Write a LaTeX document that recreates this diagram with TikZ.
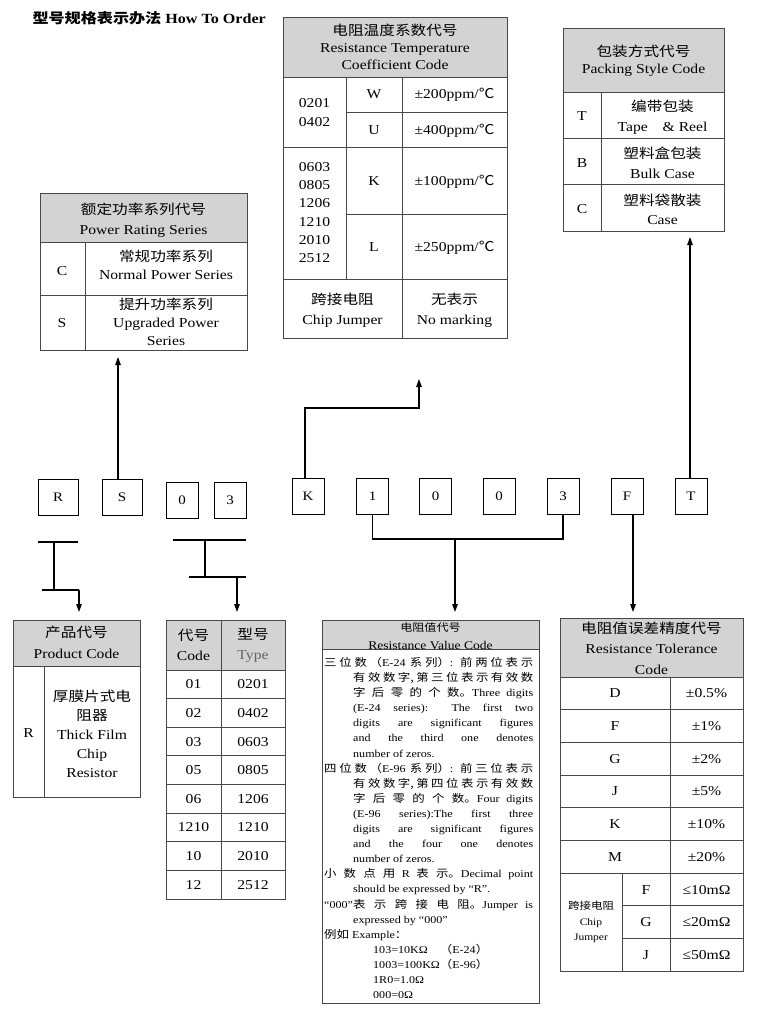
\documentclass[tikz,border=0pt]{standalone}
\usepackage{fontspec}
\setmainfont{Liberation Serif}[FakeStretch=1.15]
\newfontfamily\cjk{Noto Sans CJK SC}[FakeStretch=1.15]
\usepackage{tikz}
\usetikzlibrary{arrows.meta}
\usepackage{xcolor}
\definecolor{linegray}{RGB}{72,72,72}
\definecolor{headgray}{RGB}{211,211,211}
\definecolor{typegray}{RGB}{100,100,100}
\newcommand{\zhtxt}[1]{{\cjk #1}}
\newcommand{\rvzh}[1]{{\cjk\fontsize{10.8}{15.1}\selectfont #1}}
\newcommand{\tabfont}{\fontsize{13.6}{18.5}\selectfont}
\newcommand{\rvitem}{\noindent\hangindent=29pt\hangafter=1\relax}
\newcommand{\rvsetup}{\parindent=0pt\XeTeXlinebreaklocale "zh"\XeTeXlinebreakskip=0pt plus 3pt\relax
  \tolerance=10000\hyphenpenalty=10000\exhyphenpenalty=10000\relax}

\begin{document}
\begin{tikzpicture}[x=1pt,y=-1pt,font=\tabfont,
  tabline/.style={draw=linegray,line width=0.9pt},
  cell/.style={align=center,inner sep=0pt},
  lead/.style={font=\fontsize{13.6}{#1}\selectfont},
  digitbox/.style={draw=black,line width=0.9pt,minimum width=32pt,minimum height=36pt,inner sep=0pt,font=\fontsize{13}{15}\selectfont},
  wire/.style={line width=1.2pt},
  conn/.style={wire,-{Triangle[length=8pt,width=5.5pt]}},
  rvtext/.style={text width=209pt,align=justify,inner sep=0pt,font=\fontsize{10.5}{15.1}\selectfont}]
\fill[white] (0,0) rectangle (775,1010);
\useasboundingbox (0,0) rectangle (775,1010);

\node[anchor=west,font=\fontsize{14}{16}\selectfont\bfseries] (title) at (29,18) {\zhtxt{型号规格表示办法} How To Order};

% code letters
\node[digitbox,minimum width=40pt] (dR) at (58,497) {R};
\node[digitbox,minimum width=40pt] (dS) at (122,497) {S};
\node[digitbox] (d0a) at (182,500.5) {0};
\node[digitbox] (d3a) at (230,500.5) {3};
\node[digitbox] (dK) at (308,496.5) {K};
\node[digitbox] (d1) at (372.5,496.5) {1};
\node[digitbox] (d0b) at (435.5,496.5) {0};
\node[digitbox] (d0c) at (499,496.5) {0};
\node[digitbox] (d3b) at (563,496.5) {3};
\node[digitbox] (dF) at (627,496.5) {F};
\node[digitbox] (dT) at (691,496.5) {T};

% power rating series
\draw[tabline,fill=headgray] (40,193) rectangle (247,242);
\draw[tabline] (40,242) rectangle (247,350);
\draw[tabline] (40,295) -- (247,295);
\draw[tabline] (85,242) -- (85,350);
\node[cell,lead=19.5] (pwrhead) at (143.5,220) {\zhtxt{额定功率系列代号}\\Power Rating Series};
\node[cell] (pwrC) at (62,271) {C};
\node[cell,lead=17.5] (pwrCtxt) at (166,265) {\zhtxt{常规功率系列}\\Normal Power Series};
\node[cell] (pwrS) at (62,323) {S};
\node[cell,lead=18.3] (pwrStxt) at (166,322) {\zhtxt{提升功率系列}\\Upgraded Power\\Series};

% temperature coefficient
\draw[tabline,fill=headgray] (283,17) rectangle (507,77);
\draw[tabline] (283,77) rectangle (507,338);
\draw[tabline] (346,77) -- (346,279);
\draw[tabline] (402,77) -- (402,338);
\draw[tabline] (346,112) -- (507,112);
\draw[tabline] (283,147) -- (507,147);
\draw[tabline] (346,214) -- (507,214);
\draw[tabline] (283,279) -- (507,279);
\node[cell,lead=16.7] (rtchead) at (395,47) {\zhtxt{电阻温度系数代号}\\Resistance Temperature\\Coefficient Code};
\node[cell,lead=18.3] (rtcsz1) at (314.5,112.5) {0201\\0402};
\node[cell] (rtcW) at (374,94.5) {W};
\node[cell] (rtcWv) at (454.5,95) {±200ppm/\zhtxt{℃}};
\node[cell] (rtcU) at (374,130) {U};
\node[cell] (rtcUv) at (454.5,131) {±400ppm/\zhtxt{℃}};
\node[cell,lead=18.3] (rtcsz2) at (314.5,212.5) {0603\\0805\\1206\\1210\\2010\\2512};
\node[cell] (rtcK) at (374,181) {K};
\node[cell] (rtcKv) at (454.5,182) {±100ppm/\zhtxt{℃}};
\node[cell] (rtcL) at (374,247) {L};
\node[cell] (rtcLv) at (454.5,248) {±250ppm/\zhtxt{℃}};
\node[cell,lead=20] (rtcjmp) at (342.5,310) {\zhtxt{跨接电阻}\\Chip Jumper};
\node[cell,lead=20] (rtcnone) at (454.5,310) {\zhtxt{无表示}\\No marking};

% packing style
\draw[tabline,fill=headgray] (563,28) rectangle (724,92);
\draw[tabline] (563,92) rectangle (724,231);
\draw[tabline] (563,138) -- (724,138);
\draw[tabline] (563,184) -- (724,184);
\draw[tabline] (601,92) -- (601,231);
\node[cell,lead=17] (pkghead) at (643.5,61) {\zhtxt{包装方式代号}\\Packing Style Code};
\node[cell] (pkgT) at (582,116) {T};
\node[cell,lead=19.5] (pkgTtxt) at (662.5,117) {\zhtxt{编带包装}\\Tape\hspace{11pt} \& Reel};
\node[cell] (pkgB) at (582,163) {B};
\node[cell,lead=19.5] (pkgBtxt) at (662.5,163) {\zhtxt{塑料盒包装}\\Bulk Case};
\node[cell] (pkgC) at (582,209.5) {C};
\node[cell,lead=19.5] (pkgCtxt) at (662.5,209.5) {\zhtxt{塑料袋散装}\\Case};

% product code
\draw[tabline,fill=headgray] (13,620) rectangle (140,666);
\draw[tabline] (13,666) rectangle (140,797);
\draw[tabline] (44,666) -- (44,797);
\node[cell,lead=21.6] (prodhead) at (76.5,642.5) {\zhtxt{产品代号}\\Product Code};
\node[cell] (prodR) at (28.5,733) {R};
\node[cell,lead=18.9] (prodRtxt) at (92,734) {\zhtxt{厚膜片式电}\\\zhtxt{阻器}\\Thick Film\\Chip\\Resistor};

% size code
\draw[tabline,fill=headgray] (166,620) rectangle (285,670);
\draw[tabline] (166,670) rectangle (285,899);
\draw[tabline] (221,620) -- (221,899);
\foreach \k in {1,...,7} \draw[tabline] (166,{670+28.625*\k}) -- (285,{670+28.625*\k});
\node[cell,lead=20] (codehead) at (193.5,645) {\zhtxt{代号}\\Code};
\node[cell,lead=20] (typehead) at (253,645) {\zhtxt{型号}\\\textcolor{typegray}{Type}};
\foreach \c/\t [count=\k] in {01/0201,02/0402,03/0603,05/0805,06/1206,1210/1210,10/2010,12/2512} {
  \node[cell] (code\k) at (193.5,{670+28.625*(\k-0.5)}) {\c};
  \node[cell] (type\k) at (253,{670+28.625*(\k-0.5)}) {\t};
}

% resistance value
\draw[tabline,fill=headgray] (322,620) rectangle (539,649);
\draw[tabline] (322,649) rectangle (539,1003);
\node[cell,font=\fontsize{11.8}{18.3}\selectfont] (rvhead) at (430.5,636) {{\cjk\fontsize{10.5}{18.3}\selectfont 电阻值代号}\\Resistance Value Code};
\node[rvtext,anchor=north west] (rvbody) at (324,657) {\rvsetup
\rvitem\rvzh{三位数（}\mbox{E-24} \rvzh{系列）}: \rvzh{前两位表示}\linebreak
\rvzh{有效数字,第三位表示有效数}\linebreak
\rvzh{字后零的个数。}Three digits\linebreak
(\mbox{E-24} series): The first two\linebreak
digits are significant figures\linebreak
and the third one denotes\linebreak
number of zeros.\par
\rvitem\rvzh{四位数（}\mbox{E-96} \rvzh{系列）}: \rvzh{前三位表示}\linebreak
\rvzh{有效数字,第四位表示有效数}\linebreak
\rvzh{字后零的个数。}Four digits\linebreak
(\mbox{E-96} series):The first three\linebreak
digits are significant figures\linebreak
and the four one denotes\linebreak
number of zeros.\par
\rvitem\rvzh{小数点用} R \rvzh{表示。}Decimal point\linebreak
should be expressed by “R”.\par
\rvitem “000”\rvzh{表示跨接电阻。}Jumper is\linebreak
expressed by “000”\par
\rvitem\rvzh{例如} Example\rvzh{：}\par
{\leftskip=49pt
103=10KΩ\hspace{12pt}\rvzh{（}E-24\rvzh{）}\par
1003=100KΩ\rvzh{（}E-96\rvzh{）}\par
1R0=1.0Ω\par
000=0Ω\par}};

% tolerance
\draw[tabline,fill=headgray] (560,618) rectangle (743,677);
\draw[tabline] (560,677) rectangle (743,971);
\foreach \k in {1,...,6} \draw[tabline] (560,{677+32.7*\k}) -- (743,{677+32.7*\k});
\foreach \k in {7,8} \draw[tabline] (622,{677+32.7*\k}) -- (743,{677+32.7*\k});
\draw[tabline] (670,677) -- (670,971);
\draw[tabline] (622,873.2) -- (622,971);
\node[cell,lead=20.5] (tolhead) at (651.5,648) {\zhtxt{电阻值误差精度代号}\\Resistance Tolerance\\Code};
\foreach \c/\v [count=\k] in {D/{±0.5\%},F/{±1\%},G/{±2\%},J/{±5\%},K/{±10\%},M/{±20\%}} {
  \node[cell] (tol\c) at (615,{677+32.7*(\k-0.5)}) {\c};
  \node[cell] (tolv\c) at (706.5,{677+32.7*(\k-0.5)}) {\v};
}
\foreach \c/\v [count=\k] in {F/10,G/20,J/50} {
  \node[cell] (jmp\c) at (646,{873.2+32.7*(\k-0.5)}) {\c};
  \node[cell] (jmpv\c) at (706.5,{873.2+32.7*(\k-0.5)}) {≤\v mΩ};
}
\node[cell,font=\fontsize{10}{15.5}\selectfont] (jmplabel) at (591,922) {\zhtxt{跨接电阻}\\Chip\\Jumper};

% connectors
\coordinate (pwrin) at (118,357);
\coordinate (kbend) at (305,408);
\coordinate (rtcin) at (419,379);
\coordinate (pkgin) at (690,237);
\draw[conn] (dS.north -| pwrin) -- (pwrin);
\draw[conn] (dK.north -| kbend) -- (kbend) -| (rtcin);
\draw[conn] (dT.north -| pkgin) -- (pkgin);

\coordinate (rtop) at (54,542);
\coordinate (rlow) at (79,590);
\coordinate (prodin) at (79,612);
\draw[wire] (dR.west |- rtop) -- (dR.east |- rtop);
\draw[wire] (rtop) -- (rtop |- rlow);
\draw[wire] ([xshift=4pt]dR.west |- rlow) -- (rlow);
\draw[conn] (rlow) -- (prodin);

\coordinate (ttop) at (205,540);
\coordinate (tlow) at (237,577);
\coordinate (typein) at (237,612);
\draw[wire] ([xshift=7pt]d0a.west |- ttop) -- (d3a.east |- ttop);
\draw[wire] (ttop) -- (ttop |- tlow);
\draw[wire] ([xshift=23pt]d0a.west |- tlow) -- (d3a.east |- tlow);
\draw[conn] (tlow) -- (typein);

\coordinate (rvtop) at (455,539);
\coordinate (rvin) at (455,612);
\draw[wire] (d1.south) |- (rvtop) -| (d3b.south);
\draw[conn] (rvtop) -- (rvin);

\coordinate (tolin) at (633,612);
\draw[conn] (dF.south -| tolin) -- (tolin);
\end{tikzpicture}
\end{document}
